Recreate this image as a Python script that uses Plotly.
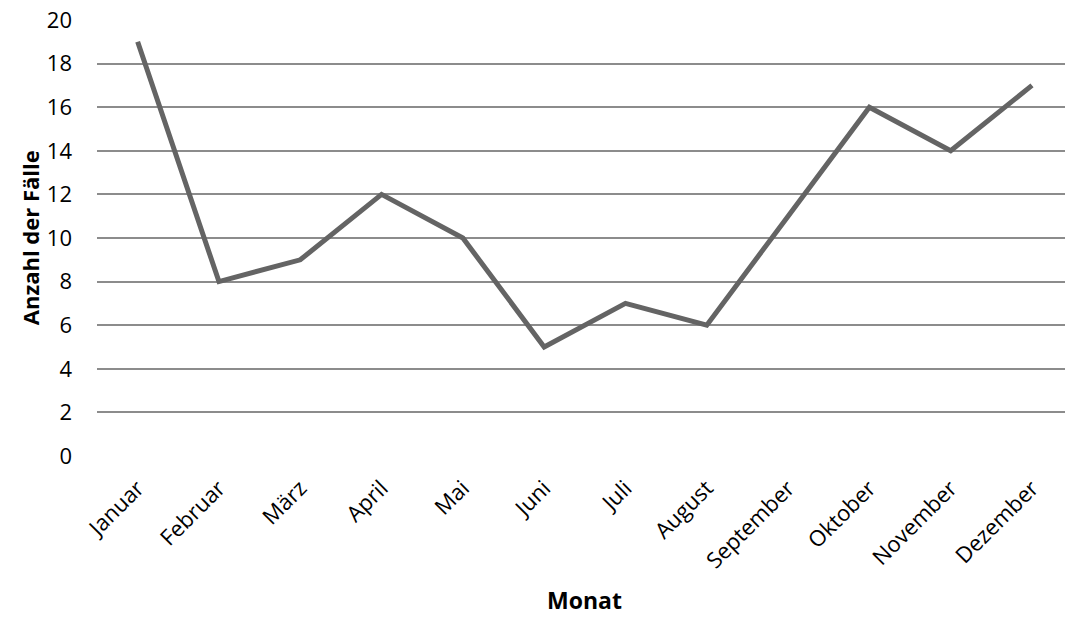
import plotly.graph_objects as go

months = ["Januar", "Februar", "März", "April", "Mai", "Juni", "Juli",
          "August", "September", "Oktober", "November", "Dezember"]
cases = [19, 8, 9, 12, 10, 5, 7, 6, 11, 16, 14, 17]
y_ticks = [0, 2, 4, 6, 8, 10, 12, 14, 16, 18, 20]

FONT = "Open Sans"

fig = go.Figure()
fig.add_trace(go.Scatter(
    x=months, y=cases, mode="lines",
    line=dict(color="#646464", width=5),
    hoverinfo="x+y",
))

fig.update_layout(
    width=1065, height=618,
    margin=dict(l=97, r=0, t=20, b=162),
    paper_bgcolor="white", plot_bgcolor="white",
    showlegend=False,
    font=dict(family=FONT, size=22, color="black"),
)
fig.update_xaxes(
    type="category",
    range=[-0.5, 11.406],
    showgrid=False, zeroline=False, showline=False,
    tickangle=-45, ticks="", tickfont=dict(family=FONT, size=22),
    ticklabelstandoff=14,
)
fig.update_yaxes(
    range=[0, 20], tickvals=y_ticks,
    showgrid=True, gridcolor="#8c8c8c", gridwidth=1.5,
    zeroline=False, showline=False, ticks="",
    ticklabelstandoff=24, tickfont=dict(family=FONT, size=22),
)
fig.add_annotation(text="<b>Monat</b>", xref="paper", yref="paper",
                   x=0.504, y=-0.33, showarrow=False,
                   font=dict(family=FONT, size=23), xanchor="center", yanchor="middle")
fig.add_annotation(text="<b>Anzahl der Fälle</b>", xref="paper", yref="paper",
                   x=-0.069, y=0.5, showarrow=False, textangle=-90,
                   font=dict(family=FONT, size=22), xanchor="center", yanchor="middle")

fig.write_html("out.html")
